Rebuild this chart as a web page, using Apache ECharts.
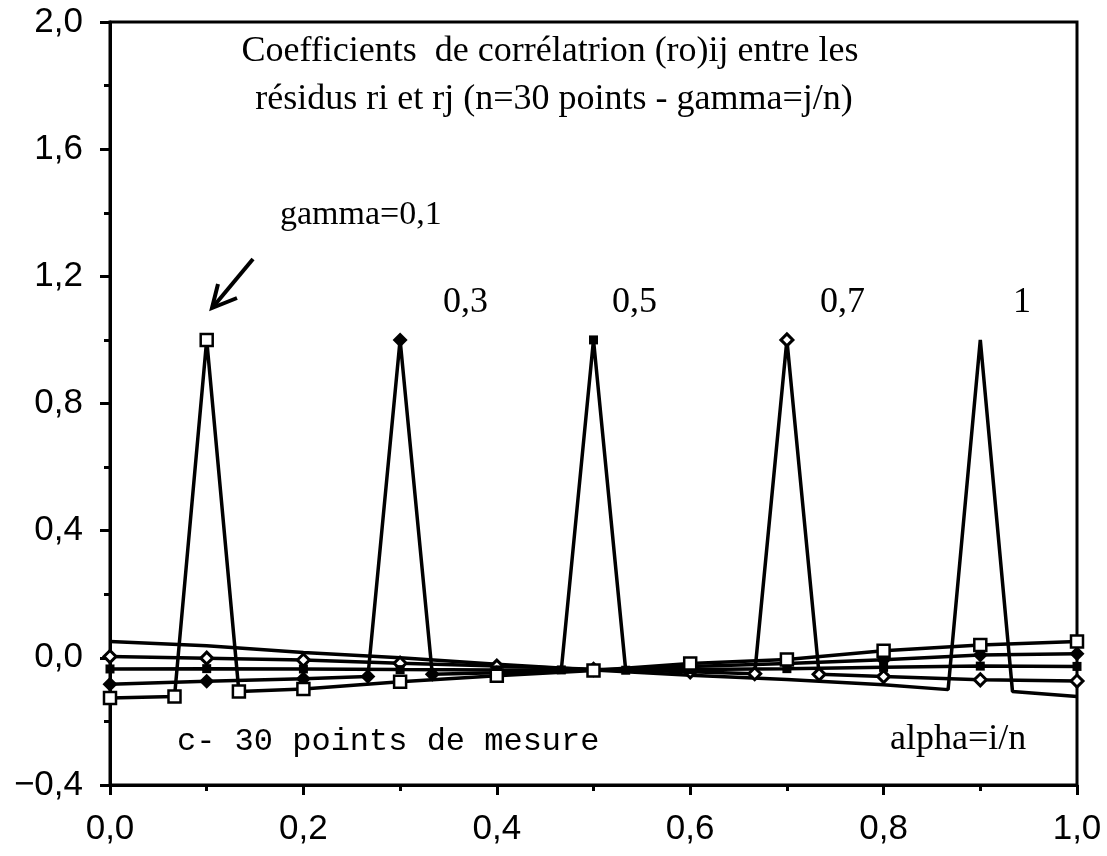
<!DOCTYPE html>
<html>
<head>
<meta charset="utf-8">
<script src="https://cdn.jsdelivr.net/npm/echarts@6/dist/echarts.min.js"></script>
<style>
html,body{margin:0;padding:0;background:#fff;}
#chart{width:1107px;height:856px;}
</style>
</head>
<body>
<div id="chart"></div>
<script>
// ---- data ----
var xTicks = [0, 0.2, 0.4, 0.6, 0.8, 1.0];
var yTicks = [-0.4, 0, 0.4, 0.8, 1.2, 1.6, 2.0];

var g01X = [0, 0.0667, 0.1, 0.1333, 0.2, 0.3, 0.4, 0.5, 0.6, 0.7, 0.8, 0.9, 1.0];
var g01Y = [-0.126, -0.122, 1.0, -0.106, -0.098, -0.075, -0.056, -0.040, -0.018, -0.005, 0.022, 0.040, 0.051];

var g03X = [0, 0.1, 0.2, 0.2667, 0.3, 0.3333, 0.4, 0.5, 0.6, 0.7, 0.8, 0.9, 1.0];
var g03Y = [-0.083, -0.074, -0.066, -0.059, 1.0, -0.052, -0.047, -0.038, -0.027, -0.018, -0.006, 0.009, 0.013];

var g05X = [0, 0.1, 0.2, 0.3, 0.4, 0.4667, 0.5, 0.5333, 0.6, 0.7, 0.8, 0.9, 1.0];
var g05Y = [-0.035, -0.034, -0.035, -0.037, -0.038, -0.038, 1.0, -0.039, -0.037, -0.034, -0.030, -0.026, -0.027];

var g07X = [0, 0.1, 0.2, 0.3, 0.4, 0.5, 0.6, 0.6667, 0.7, 0.7333, 0.8, 0.9, 1.0];
var g07Y = [0.004, -0.001, -0.007, -0.017, -0.026, -0.036, -0.044, -0.050, 1.0, -0.052, -0.059, -0.069, -0.073];

var g09X = [0, 0.1, 0.2, 0.3, 0.4, 0.5, 0.6, 0.7, 0.8, 0.8667, 0.9, 0.9333, 1.0];
var g09Y = [0.051, 0.038, 0.017, 0.0, -0.020, -0.038, -0.055, -0.068, -0.085, -0.100, 1.0, -0.106, -0.122];

var titleLines = ['Coefficients  de corrélatrion (ro)ij entre les',
                  'résidus ri et rj (n=30 points - gamma=j/n)'];
var peakLabels = ['gamma=0,1', '0,3', '0,5', '0,7', '1'];
var noteText = 'c- 30 points de mesure';
var axisNote = 'alpha=i/n';

function pairs(xs, ys){ return xs.map(function(x,i){ return [x, ys[i]]; }); }
function comma(v){ var s = Math.abs(v).toFixed(1).replace('.', ','); return (v < -1e-9 ? '\u2212' : '') + s; }

var chart = echarts.init(document.getElementById('chart'), null, {renderer:'canvas'});

var SERIF = '"Liberation Serif", "DejaVu Serif", serif';
var SANS = '"Liberation Sans", Arial, sans-serif';
var MONO = '"Liberation Mono", "DejaVu Sans Mono", monospace';

function lineSeries(name, xs, ys, symbol, size, itemStyle){
  return {
    name: name, type: 'line', data: pairs(xs, ys),
    symbol: symbol, symbolSize: size, showAllSymbol: true,
    clip: false, silent: true,
    lineStyle: {color:'#000', width:3.5},
    itemStyle: itemStyle,
    emphasis: {disabled:true},
    z: 3
  };
}

var option = {
  animation: false,
  backgroundColor: '#fff',
  grid: {left:110, right:30, top:22, bottom:71, show:true, borderColor:'#000', borderWidth:3, backgroundColor:'transparent'},
  xAxis: {
    type:'value', min:0, max:1, interval:0.2,
    axisLine:{show:true, onZero:false, lineStyle:{color:'#000', width:3}},
    axisTick:{show:true, inside:false, length:10, lineStyle:{color:'#000', width:3}},
    minorTick:{show:true, splitNumber:2, length:6, lineStyle:{color:'#000', width:3}},
    splitLine:{show:false},
    axisLabel:{formatter:comma, color:'#000', fontFamily:SANS, fontSize:35, margin:27}
  },
  yAxis: {
    type:'value', min:-0.4, max:2.0, interval:0.4,
    axisLine:{show:true, onZero:false, lineStyle:{color:'#000', width:3}},
    axisTick:{show:true, inside:false, length:10, lineStyle:{color:'#000', width:3}},
    minorTick:{show:true, splitNumber:2, length:6, lineStyle:{color:'#000', width:3}},
    splitLine:{show:false},
    axisLabel:{formatter:comma, color:'#000', fontFamily:SANS, fontSize:35, margin:27}
  },
  series: [
    lineSeries('gamma=0,9', g09X, g09Y, 'none', 0, {color:'#000'}),
    lineSeries('gamma=0,7', g07X, g07Y, 'diamond', 12, {color:'#fff', borderColor:'#000', borderWidth:3}),
    lineSeries('gamma=0,5', g05X, g05Y, 'rect', 9, {color:'#000'}),
    lineSeries('gamma=0,3', g03X, g03Y, 'diamond', 15, {color:'#000'}),
    lineSeries('gamma=0,1', g01X, g01Y, 'rect', 12, {color:'#fff', borderColor:'#000', borderWidth:2.5})
  ]
};
chart.setOption(option);

// ---- annotations ----
function txt(s, x, y, font, size, align){
  return {type:'text', x:x, y:y, z:10, silent:true,
    style:{text:s, fill:'#000', font: size+'px '+font, textAlign:align||'left', textVerticalAlign:'middle'}};
}
var graphics = [
  txt(titleLines[0], 550, 52, SERIF, 36, 'center'),
  txt(titleLines[1], 554, 100, SERIF, 36, 'center'),
  txt(peakLabels[0], 280, 215, SERIF, 34),
  txt(peakLabels[1], 443, 303, SERIF, 36),
  txt(peakLabels[2], 612, 303, SERIF, 36),
  txt(peakLabels[3], 820, 303, SERIF, 36),
  txt(peakLabels[4], 1013, 303, SERIF, 36),
  txt(noteText, 177, 742, MONO, 32),
  txt(axisNote, 890, 740, SERIF, 36),
  {type:'polyline', z:10, silent:true, shape:{points:[[253,259],[213,307]]}, style:{stroke:'#000', lineWidth:4, fill:null}},
  {type:'polyline', z:10, silent:true, shape:{points:[[218,284],[212,308],[237,298]]}, style:{stroke:'#000', lineWidth:4, fill:null, lineJoin:'miter'}}
];
chart.setOption({graphic: graphics});
</script>
</body>
</html>
